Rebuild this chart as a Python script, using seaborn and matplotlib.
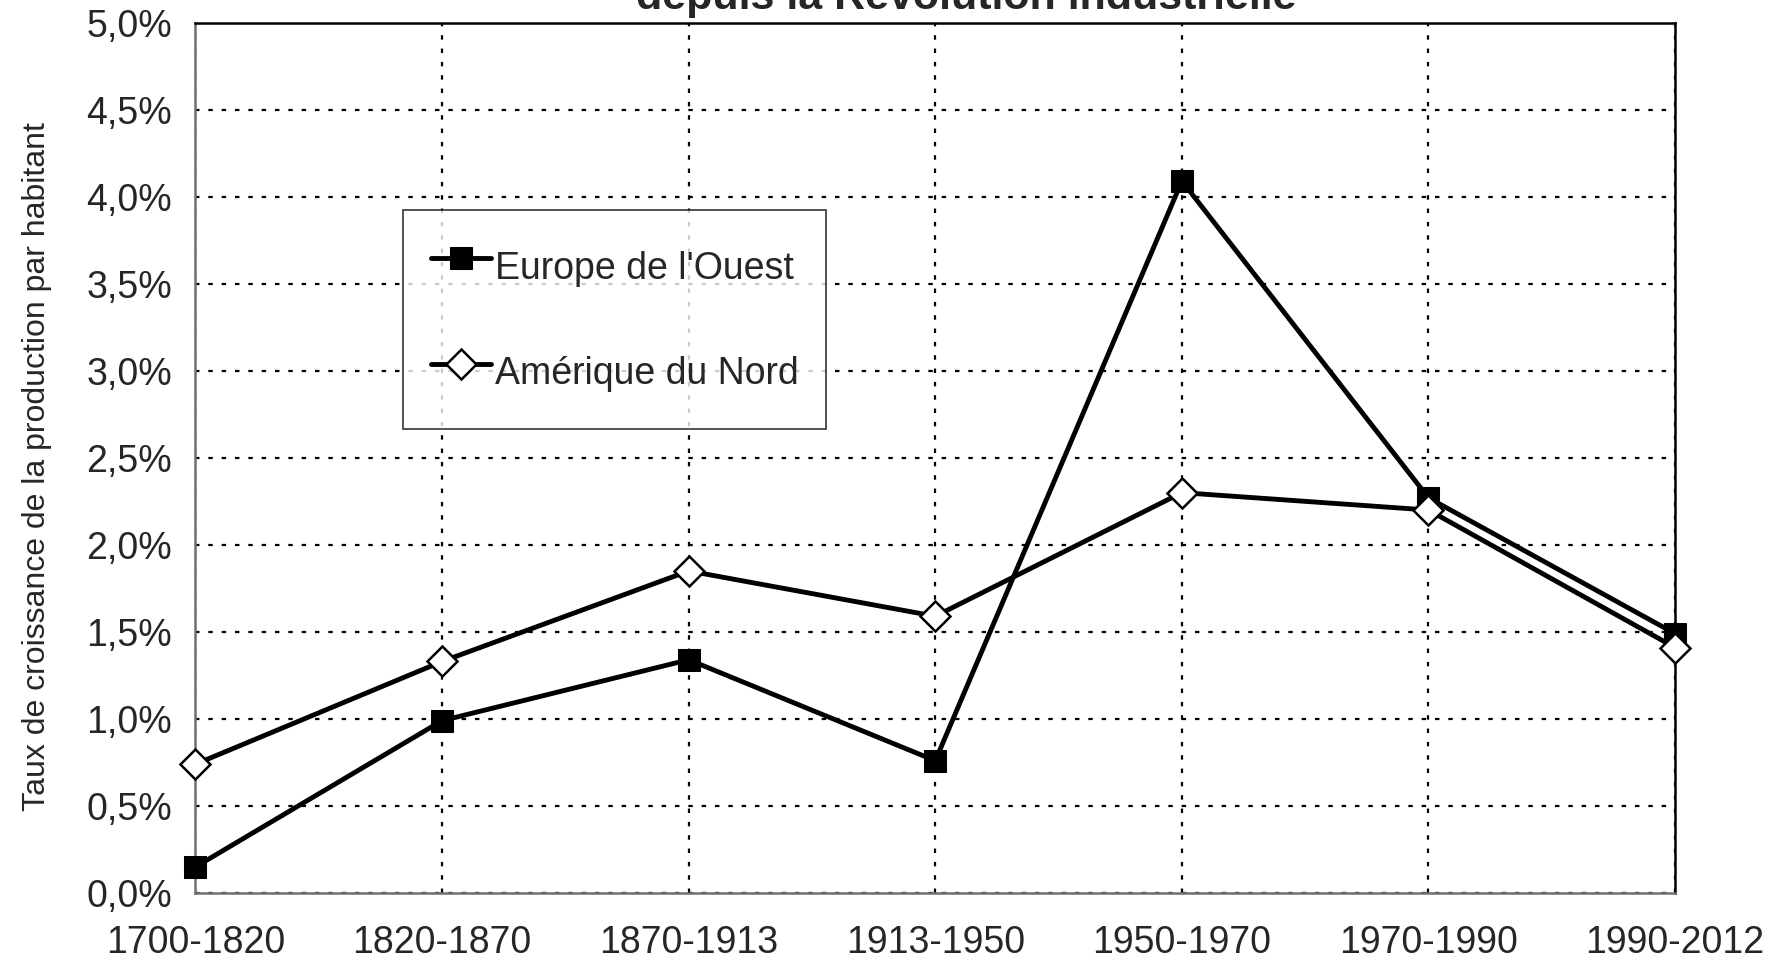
import pandas as pd
import seaborn as sns
import matplotlib.pyplot as plt
from matplotlib.ticker import FuncFormatter, MultipleLocator

periods = ["1700-1820", "1820-1870", "1870-1913", "1913-1950",
           "1950-1970", "1970-1990", "1990-2012"]
europe = [0.15, 0.99, 1.34, 0.76, 4.09, 2.27, 1.49]
amerique = [0.74, 1.33, 1.85, 1.59, 2.30, 2.20, 1.41]

sns.set_style("white")
plt.rcParams['font.family'] = ['Liberation Sans', 'DejaVu Sans']

df = pd.DataFrame({"periode": periods * 2,
                   "taux": europe + amerique,
                   "serie": ["Europe de l'Ouest"] * 7 + ["Amérique du Nord"] * 7})

fig = plt.figure(figsize=(17.82, 9.6), dpi=100)
ax = fig.add_axes([0.1097, 0.0698, 0.8303, 0.9066])

sns.lineplot(data=df[df.serie == "Europe de l'Ouest"], x="periode", y="taux",
             color="black", lw=3.5, marker="s", markersize=16,
             markerfacecolor="black", markeredgecolor="black",
             label="Europe de l'Ouest", sort=False, ax=ax, zorder=4, clip_on=False)
sns.lineplot(data=df[df.serie == "Amérique du Nord"], x="periode", y="taux",
             color="black", lw=3.5, marker="D", markersize=15,
             markerfacecolor="white", markeredgecolor="black", markeredgewidth=1.8,
             label="Amérique du Nord", sort=False, ax=ax, zorder=5, clip_on=False)

ax.set_xlim(0, 6)
ax.set_ylim(0, 5)
ax.yaxis.set_major_locator(MultipleLocator(0.5))
ax.yaxis.set_major_formatter(FuncFormatter(lambda v, p: f"{v:.1f}%".replace(".", ",")))

ax.grid(True, color="black", linestyle=(0, (2, 4)), linewidth=1.6)
for s in ["top", "right"]:
    ax.spines[s].set_color("black")
    ax.spines[s].set_linewidth(1.8)
for s in ["left", "bottom"]:
    ax.spines[s].set_color("#707070")
    ax.spines[s].set_linewidth(1.8)

ax.tick_params(axis="both", labelsize=27, color="#808080", length=7, width=1,
               direction="out")
ax.tick_params(axis="x", pad=16)
ax.tick_params(axis="y", pad=10)
ax.set_xlabel("")
ax.set_ylabel("Taux de croissance de la production par habitant", fontsize=23,
              family=["Liberation Sans Narrow", "Liberation Sans"])
ax.yaxis.set_label_coords(-0.097, 0.49)

leg = ax.legend(loc="upper left", bbox_to_anchor=(0.14, 0.785), fontsize=27,
                frameon=True, fancybox=False, edgecolor="black",
                handlelength=1.6, handleheight=2.0, handletextpad=0.1,
                labelspacing=1.26, borderpad=0.75, borderaxespad=0)
leg.get_frame().set_linewidth(1.2)

fig.text(0.542, 1 - 9 / 960, "depuis la Révolution industrielle", ha="center",
         va="baseline", fontsize=31, fontweight="bold")

fig.savefig("out.png", dpi=100)
